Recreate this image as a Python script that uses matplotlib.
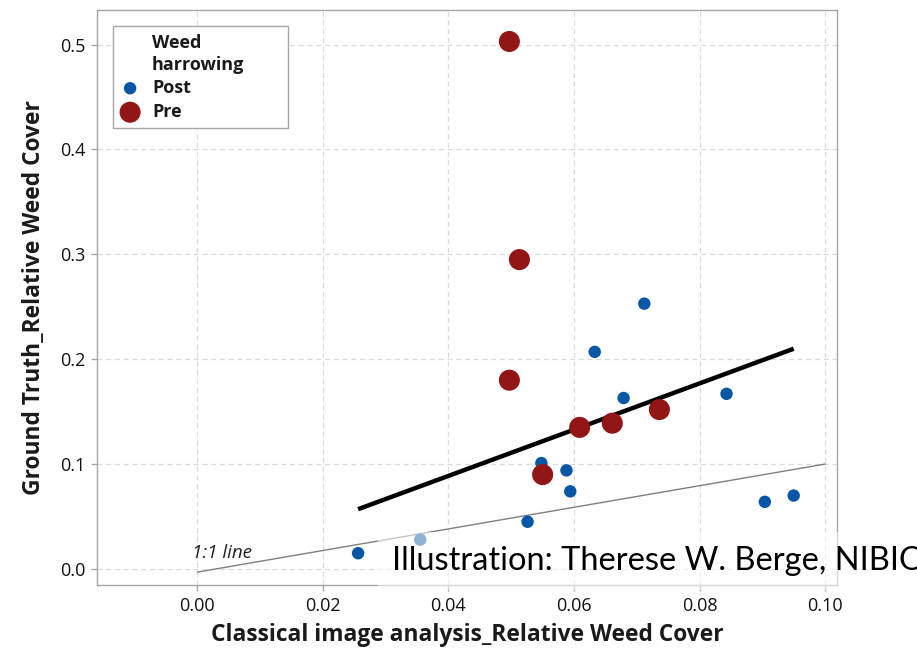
import matplotlib
matplotlib.use("Agg")
import matplotlib.pyplot as plt
from matplotlib.patches import Rectangle

# Data
post_x = [0.0712, 0.0633, 0.0679, 0.0843, 0.0548, 0.0588, 0.0594, 0.0526, 0.0904, 0.0950, 0.0256, 0.0355]
post_y = [0.253, 0.207, 0.163, 0.167, 0.101, 0.094, 0.074, 0.045, 0.064, 0.070, 0.015, 0.028]
pre_x = [0.0497, 0.0513, 0.0497, 0.0609, 0.0661, 0.0736, 0.0550]
pre_y = [0.503, 0.295, 0.180, 0.135, 0.139, 0.152, 0.090]
fit_x = [0.0256, 0.0950]
fit_y = [0.057, 0.210]
one_x = [0.0, 0.10]
one_y = [-0.003, 0.10]
xticks = [0.00, 0.02, 0.04, 0.06, 0.08, 0.10]
yticks = [0.0, 0.1, 0.2, 0.3, 0.4, 0.5]

plt.rcParams['font.family'] = ['Open Sans', 'DejaVu Sans']

W, H = 917, 651
fig = plt.figure(figsize=(W / 100, H / 100), dpi=100)
ax = fig.add_axes([97/W, 1-585/H, (837-97)/W, (585-10)/H])

ax.grid(True, color='#dadada', linestyle=(0, (4, 3)), linewidth=0.9)
ax.set_axisbelow(True)

ax.plot(one_x, one_y, color='#7f7f7f', linewidth=1.0, zorder=2)
ax.plot(fit_x, fit_y, color='black', linewidth=3.2, zorder=3, solid_capstyle='butt')
ax.scatter(post_x, post_y, s=80, color='#0856A6', edgecolors='none', zorder=4, label='Post')
ax.scatter(pre_x, pre_y, s=230, color='#921615', edgecolors='none', zorder=5, label='Pre')

ax.text(-0.0008, 0.0105, '1:1 line', style='italic', fontsize=13.5, color='#222222', va='baseline')

ax.set_xlim(-0.016, 0.1019)
ax.set_ylim(-0.0153, 0.533)
ax.set_xticks(xticks)
ax.set_yticks(yticks)
ax.set_xticklabels([f'{v:.2f}' for v in xticks])
ax.set_yticklabels([f'{v:.1f}' for v in yticks])
ax.tick_params(length=4.5, width=1.0, color='#a6a6a6', labelsize=13, labelcolor='#111111', pad=4)
for sp in ax.spines.values():
    sp.set_color('#a6a6a6')
    sp.set_linewidth(1.0)

ax.set_xlabel('Classical image analysis_Relative Weed Cover', fontsize=16.4, fontweight='bold',
              labelpad=6, color='#1a1a1a')
ax.set_ylabel('Ground Truth_Relative Weed Cover', fontsize=16.4, fontweight='bold',
              labelpad=10, color='#1a1a1a')

# Legend (frame and title drawn separately to match layout)
leg = ax.legend(loc='upper left', bbox_to_anchor=(115/W, 1-79/H), bbox_transform=fig.transFigure,
                frameon=False, prop={'weight': 'bold', 'size': 13}, handlelength=1.67,
                handletextpad=0.4, borderpad=0, labelspacing=0.33, borderaxespad=0,
                scatterpoints=1)
leg.set_zorder(8)
for t in leg.get_texts():
    t.set_color('#1a1a1a')
ax.add_patch(Rectangle((112.5/W, 1-128/H), 175/W, 102/H, transform=fig.transFigure,
                       facecolor='white', edgecolor='#a6a6a6', linewidth=1.0, zorder=7,
                       clip_on=False))
ax.text(152/W, 1-48/H, 'Weed', transform=fig.transFigure, fontsize=13, fontweight='bold',
        va='baseline', color='#1a1a1a', zorder=9)
ax.text(152/W, 1-70/H, 'harrowing', transform=fig.transFigure, fontsize=13, fontweight='bold',
        va='baseline', color='#1a1a1a', zorder=9)

fig.text(392/W, 1-561/H, 'Illustration: Therese W. Berge, NIBIO', fontsize=23.5,
         family=['Lato', 'DejaVu Sans'], va='center', ha='left', color='black', zorder=10,
         bbox=dict(facecolor='white', alpha=0.55, edgecolor='none', pad=10))

fig.savefig('out.png', dpi=100)
